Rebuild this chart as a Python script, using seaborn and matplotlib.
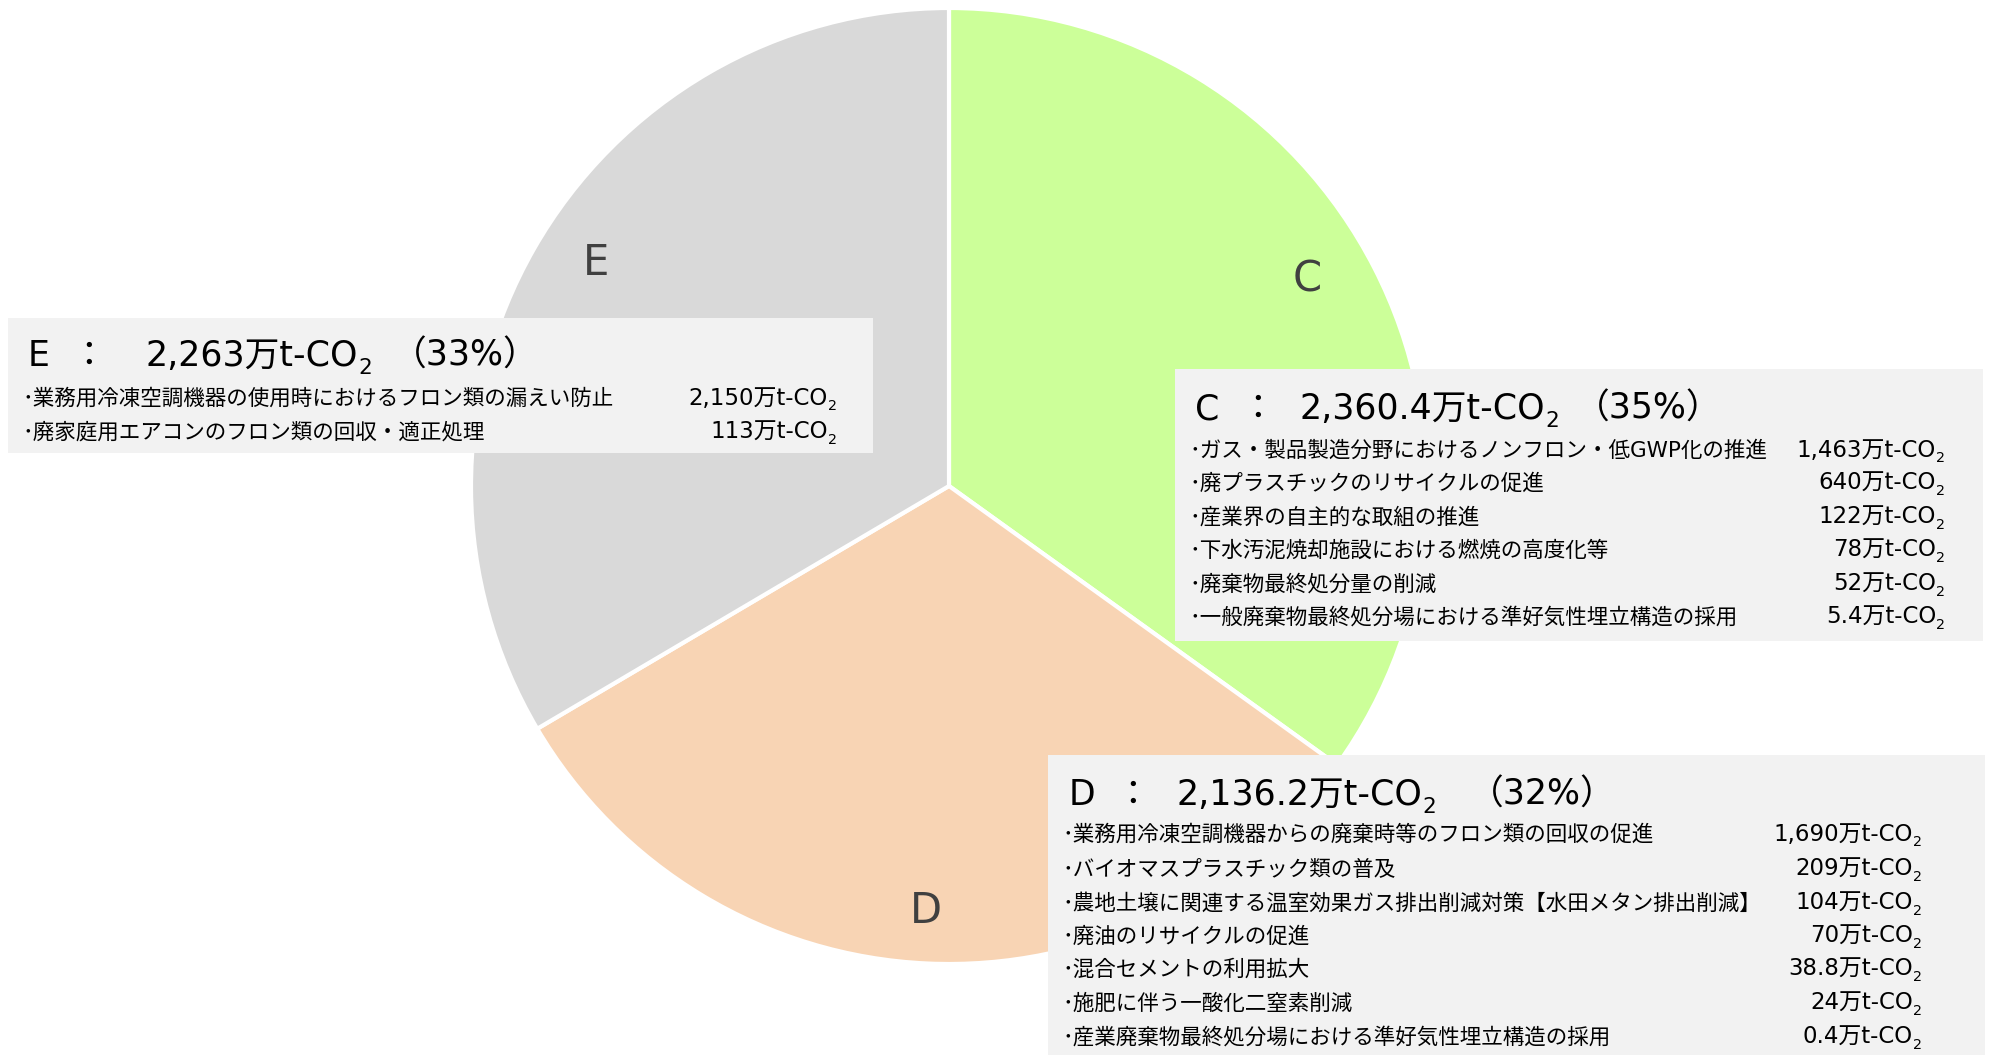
import matplotlib
matplotlib.use("Agg")
import matplotlib.pyplot as plt
from matplotlib.patches import Rectangle
import numpy as np
import seaborn as sns

# sectors and totals (万t-CO2)
sectors = ["C", "D", "E"]
totals = [2360.4, 2136.2, 2263]
total_labels = ["2,360.4", "2,136.2", "2,263"]
shares = [35, 32, 33]
colors = ["#CCFF99", "#F8D4B4", "#D9D9D9"]

c_items = ["ガス・製品製造分野におけるノンフロン・低GWP化の推進",
           "廃プラスチックのリサイクルの促進",
           "産業界の自主的な取組の推進",
           "下水汚泥焼却施設における燃焼の高度化等",
           "廃棄物最終処分量の削減",
           "一般廃棄物最終処分場における準好気性埋立構造の採用"]
c_values = ["1,463", "640", "122", "78", "52", "5.4"]

d_items = ["業務用冷凍空調機器からの廃棄時等のフロン類の回収の促進",
           "バイオマスプラスチック類の普及",
           "農地土壌に関連する温室効果ガス排出削減対策【水田メタン排出削減】",
           "廃油のリサイクルの促進",
           "混合セメントの利用拡大",
           "施肥に伴う一酸化二窒素削減",
           "産業廃棄物最終処分場における準好気性埋立構造の採用"]
d_values = ["1,690", "209", "104", "70", "38.8", "24", "0.4"]

e_items = ["業務用冷凍空調機器の使用時におけるフロン類の漏えい防止",
           "廃家庭用エアコンのフロン類の回収・適正処理"]
e_values = ["2,150", "113"]

sns.set_theme(style="white")
FAM = ["DejaVu Sans", "Noto Sans CJK JP"]
plt.rcParams["font.family"] = FAM

W, H = 1989, 1058
fig = plt.figure(figsize=(W / 100, H / 100), dpi=100)
fig.patch.set_facecolor("white")
renderer = fig.canvas.get_renderer()

# pie axes, placed in pixel terms
cx, cy, r = 949, 486, 478
ax = fig.add_axes([(cx - r) / W, 1 - (cy + r) / H, 2 * r / W, 2 * r / H])
wedges, _ = ax.pie(totals, colors=colors, startangle=90, counterclock=False,
                   wedgeprops=dict(edgecolor="white", linewidth=3))
ax.set_xlim(-1, 1)
ax.set_ylim(-1, 1)
ax.set_aspect("equal")
ax.axis("off")

label_shift = {"C": 2.8, "D": -0.5, "E": -2.6}
label_r = {"C": 0.865, "D": 0.89, "E": 0.873}
for w, name in zip(wedges, sectors):
    mid = np.deg2rad((w.theta1 + w.theta2) / 2 + label_shift[name])
    ax.text(label_r[name] * np.cos(mid), label_r[name] * np.sin(mid), name,
            ha="center", va="center", fontsize=30, color="#404040")

# overlay for boxes in pixel coords (y from top)
ov = fig.add_axes([0, 0, 1, 1])
ov.set_xlim(0, W)
ov.set_ylim(H, 0)
ov.axis("off")


def rich(x, y, runs, size, ha="left"):
    """runs: (text, is_subscript, gap_px_before); y is baseline in px"""
    objs = []
    for txt, sub, gap in runs:
        fs = size * 0.62 if sub else size
        t = ov.text(0, y, txt, fontsize=fs, va="baseline", color="black")
        objs.append((t, sub, gap))
    widths = [t.get_window_extent(renderer).width + g for t, _, g in objs]
    cur = x - sum(widths) if ha == "right" else x
    for (t, sub, gap), wd in zip(objs, widths):
        t.set_x(cur + gap)
        if sub:
            t.set_y(y + size * 100 / 72 * 0.22)
        cur += wd


HS, IS, VS = 25, 15.5, 16.5


def draw_box(box, hx, header_y, idx, paren_gap, items, values, rows, val_right):
    x0, y0, x1, y1 = box
    ov.add_patch(Rectangle((x0, y0), x1 - x0, y1 - y0, facecolor="#F2F2F2", edgecolor="none"))
    hb = header_y + 12
    ov.text(hx[0], hb, sectors[idx], fontsize=HS, va="baseline", color="black")
    ov.text(hx[1], hb, "：", fontsize=HS, va="baseline", ha="center", color="black")
    rich(hx[2], hb, [(f"{total_labels[idx]}万t-CO", False, 0), ("2", True, 0),
                     (f"（{shares[idx]}%）", False, paren_gap)], HS)
    for item, val, y in zip(items, values, rows):
        yb = y + 7.5
        ov.text(x0 + 14, yb, "･" + item, fontsize=IS, va="baseline", color="black")
        rich(val_right, yb, [(f"{val}万t-CO", False, 0), ("2", True, 0)], VS, ha="right")


draw_box((8, 318, 873, 453), (28, 89, 146), 354, 2, 20, e_items, e_values,
         [397, 431], 837)
draw_box((1175, 369, 1983, 641), (1195, 1258, 1300), 407, 0, 16, c_items, c_values,
         [449, 482, 516, 549, 583, 616], 1945)
draw_box((1048, 755, 1985, 1055), (1069, 1133, 1177), 793, 1, 32, d_items, d_values,
         [833, 868, 902, 935, 968, 1002, 1036], 1922)

fig.savefig("out.png", dpi=100, facecolor="white")
